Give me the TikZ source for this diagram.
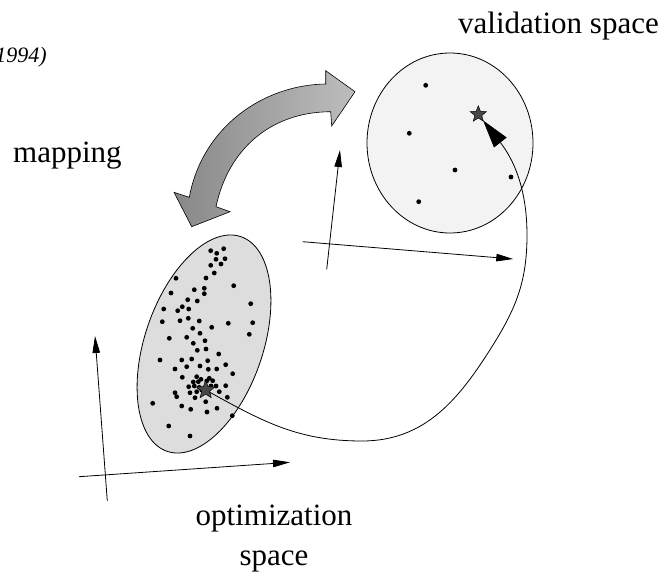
\documentclass[tikz,border=0pt]{standalone}
\usepackage{fontspec}
\setmainfont{Liberation Serif}
\usetikzlibrary{shapes.geometric,arrows.meta}
\definecolor{ellfill}{HTML}{DDDDDD}
\definecolor{circfill}{HTML}{F3F3F3}
\definecolor{starfill}{HTML}{474747}
\definecolor{arrL}{HTML}{888888}
\definecolor{arrR}{HTML}{BDBDBD}
\begin{document}
\begin{tikzpicture}[x=1pt,y=1pt,
  axis/.style={line width=0.8pt,-{Triangle[length=17pt,width=7.5pt]}},
  starnode/.style={star,star points=5,star point ratio=2.3,fill=starfill,draw=black,line width=0.5pt,inner sep=0pt,outer sep=0pt},
  lbl/.style={inner sep=0pt,font=\fontsize{31}{37}\selectfont},
  dotc/.style={fill=black}]
\useasboundingbox (0,0) rectangle (667,-573);

% optimization space
\draw[fill=ellfill,line width=0.8pt,rotate around={-19:(204,-344)}] (204,-344) ellipse [x radius=59,y radius=113.5];
\foreach \x/\y in {210.7/250.7,216.7/253.3,223.7/248.7,216/259.3,225/258.7,210.7/265.3,221/264,214.3/273,176/278.3,206/278,233.7/285.7,194.3/289.7,204.3/288.3,171/293,204.3/293.7,187.7/299.7,197.3/301,182.3/306.7,163.7/309,177.7/310.7,188.7/309,250.7/303.7,
162.3/321.7,180/320.7,188.3/318.3,199.3/321,252.7/322.7,211.7/327.3,228.3/323.3,192.7/328.3,200/333.3,249.3/334.3,169.3/338.3,186.7/337.3,205/340.7,193.3/343.3,218.7/354,197.3/350.3,206/349,160/360,181.7/360,191.7/359,207.7/360.7,225.7/364.7,175/369,186.7/366.7,200/366,208.3/369.3,216.7/369,232.7/373.7,182.3/377.3,196.7/376.7,201/379.3,209.3/378.3,193.3/382,198.3/381.7,206.7/381,212.7/380.7,188.7/386.7,194.3/386,199.3/387.3,211/386,216/386,225.7/385.7,190/392.7,196.7/391.7,201.7/390,175/392.7,176.7/396.7,195/397.7,219.3/391.7,227.3/397.3,205.7/401.7,152.7/403.3,181.7/406,190.7/409.3,217/408.3,207/412,232.3/415.7,168.7/426,190/436}
  \fill[dotc] (\x,-\y) circle (2.4pt);
\node[starnode,minimum size=19pt] (s1) at (205.7,-390) {};

% validation space
\draw[fill=circfill,line width=0.8pt] (450,-143) ellipse [x radius=83,y radius=90];
\foreach \x/\y in {425.7/85.3,409.3/133.3,455/170,511/177,418.7/201.7}
  \fill[dotc] (\x,-\y) circle (2.4pt);
\node[starnode,minimum size=17pt] (s2) at (478.3,-114.3) {};

% axes of optimization space
\coordinate (oh0) at (79,-476.7);
\coordinate (oh1) at (290,-462.3);
\coordinate (ov0) at (107.3,-501);
\coordinate (ov1) at (95,-336);
\draw[axis] (oh0) -- (oh1);
\draw[axis] (ov0) -- (ov1);

% axes of validation space
\coordinate (vh0) at (302.7,-241.7);
\coordinate (vh1) at (513.3,-259);
\coordinate (vv0) at (326.7,-269.3);
\coordinate (vv1) at (340,-150);
\draw[axis] (vh0) -- (vh1);
\draw[axis] (vv0) -- (vv1);

% mapping arrow
\coordinate (m1) at (362,-441);
\coordinate (m2) at (493,-345);
\coordinate (m3) at (527,-235);
\draw[line width=0.8pt,-{Triangle[length=28pt,width=16pt]}]
  (s1) to[out=-29,in=180] (m1) to[out=0,in=-122] (m2) to[out=58,in=-90] (m3) to[out=90,in=-52] (s2);

% big double arrow
\draw[line width=0.6pt,left color=arrL,right color=arrR]
  (191.7,-226.7) -- (230,-211.7) -- (216,-206.7)
  .. controls (228,-150) and (270,-112) .. (330.7,-111.7)
  -- (331.7,-126) -- (355,-91.7) -- (325.7,-70.7) -- (325.7,-84)
  .. controls (262,-85) and (202,-128) .. (189.3,-197.3)
  -- (174,-192.3) -- cycle;

% labels
\node[lbl,anchor=base west] (tval) at (458,-33) {validation space};
\node[lbl,anchor=base west] (tmap) at (13,-162) {mapping};
\node[lbl,anchor=base] (topt) at (274,-525) {optimization};
\node[lbl,anchor=base] (tsp) at (274,-565) {space};
\node[inner sep=0pt,anchor=base east,font=\fontsize{22}{26}\selectfont\itshape] (tyr) at (47,-62) {(1994)};
\end{tikzpicture}
\end{document}
